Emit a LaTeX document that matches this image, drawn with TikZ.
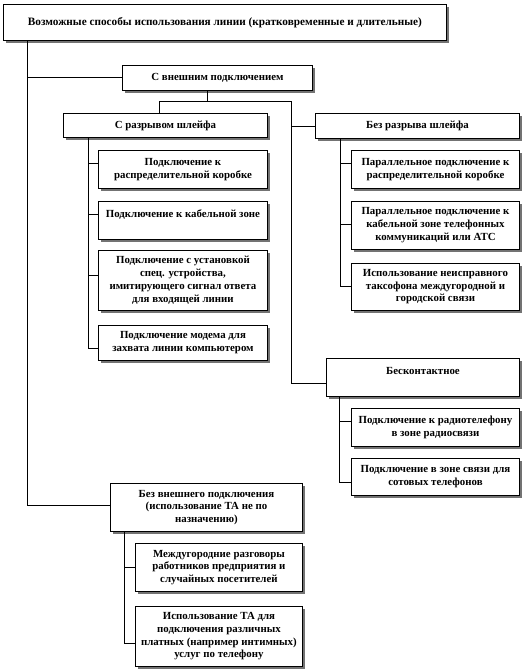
\documentclass[tikz,border=0pt]{standalone}
\usepackage{fontspec}
\setmainfont{Liberation Serif}
\usepackage{tikz}
\usetikzlibrary{positioning,calc,shadows}

\begin{document}
\begin{tikzpicture}[x=1bp, y=-1bp, line width=0.9bp]
    \tikzset{
        box/.style={draw, fill=white, rectangle, anchor=north west, align=center, inner sep=1bp,
            font=\fontsize{10.9}{12.8}\selectfont\bfseries,
            drop shadow={shadow xshift=3bp, shadow yshift=-3bp, fill=black!55, opacity=1}},
        col/.style={minimum width=#1},
        line/.style={draw, line width=0.9bp}
    }
    \useasboundingbox (0,0) rectangle (524,670);

    \node [box, minimum width=443bp, minimum height=36bp, font=\fontsize{11.3}{13}\selectfont\bfseries] (root) at (3,4)
        {Возможные способы использования линии (кратковременные и длительные)};

    % with outside connection
    \node [box, minimum width=190bp, minimum height=25bp] (ext) at (122,65) {С внешним подключением};
    \node [box, minimum width=204bp, minimum height=24bp] (brk) at (63,113) {С разрывом шлейфа};
    \node [box, minimum width=204bp, minimum height=25bp] (nobrk) at (315,113) {Без разрыва шлейфа};

    \node [box, col=169bp, minimum height=38bp] (brk1) at (98,150) {Подключение к\\распределительной коробке};
    \node [box, col=169bp, minimum height=38bp, below=12bp of brk1.south west, anchor=north west] (brk2)
        {Подключение к кабельной зоне\\\mbox{}};
    \node [box, col=169bp, minimum height=60bp, below=10bp of brk2.south west, anchor=north west] (brk3)
        {Подключение с установкой\\спец. устройства,\\имитирующего сигнал ответа\\для входящей линии};
    \node [box, col=169bp, minimum height=35bp, below=14bp of brk3.south west, anchor=north west] (brk4)
        {Подключение модема для\\захвата линии компьютером};

    \node [box, col=168bp, minimum height=38bp] (nobrk1) at (351,150) {Параллельное подключение к\\распределительной коробке};
    \node [box, col=168bp, minimum height=48bp, below=12bp of nobrk1.south west, anchor=north west] (nobrk2)
        {Параллельное подключение к\\кабельной зоне телефонных\\коммуникаций или АТС};
    \node [box, col=168bp, minimum height=47bp, below=13bp of nobrk2.south west, anchor=north west] (nobrk3)
        {Использование неисправного\\таксофона междугородной и\\городской связи};

    % contactless
    \node [box, col=193bp, minimum height=38bp] (cl) at (326,358) {Бесконтактное\\\mbox{}};
    \node [box, col=168bp, minimum height=38bp] (cl1) at (351,408) {Подключение к радиотелефону\\в зоне радиосвязи};
    \node [box, col=168bp, minimum height=37bp, below=11bp of cl1.south west, anchor=north west] (cl2)
        {Подключение в зоне связи для\\сотовых телефонов};

    % without outside connection
    \node [box, col=192bp, minimum height=48bp] (noext) at (110,483)
        {Без внешнего подключения\\(использование ТА не по\\назначению)};
    \node [box, col=167bp, minimum height=48bp] (ne1) at (135,543)
        {Междугородние разговоры\\работников предприятия и\\случайных посетителей};
    \node [box, col=167bp, minimum height=60bp, below=14bp of ne1.south west, anchor=north west] (ne2)
        {Использование ТА для\\подключения различных\\платных (например интимных)\\услуг по телефону};

    % buses
    \coordinate (mainbus) at ([xshift=24bp]root.south west);
    \coordinate (extfork) at ([xshift=-10bp, yshift=-11bp]ext.south);
    \coordinate (rbus) at (291,0 |- extfork);
    \coordinate (brkbus) at ([xshift=25bp]brk.south west);
    \coordinate (nobrkbus) at ([xshift=25bp]nobrk.south west);
    \coordinate (clbus) at ([xshift=13bp]cl.south west);
    \coordinate (nebus) at ([xshift=14bp]noext.south west);

    \path [line] (mainbus) |- (ext.west);
    \path [line] (mainbus) |- ([yshift=2bp]noext.west);
    \path [line] ([xshift=-10bp]ext.south) -- (extfork) -| ([xshift=-6bp]brk.north);
    \path [line] (extfork) -- (rbus) |- ([yshift=-6bp]cl.west);
    \path [line] (rbus) |- (nobrk.west);

    \foreach \n/\s in {brk1/6, brk2/6, brk3/5, brk4/-6}
        \path [line] (brkbus) |- ([yshift=\s bp]\n.west);
    \foreach \n/\s in {nobrk1/6, nobrk2/1, nobrk3/0}
        \path [line] (nobrkbus) |- ([yshift=\s bp]\n.west);
    \foreach \n/\s in {cl1/6, cl2/-6}
        \path [line] (clbus) |- ([yshift=\s bp]\n.west);
    \foreach \n/\s in {ne1/0, ne2/-7}
        \path [line] (nebus) |- ([yshift=\s bp]\n.west);
\end{tikzpicture}
\end{document}
